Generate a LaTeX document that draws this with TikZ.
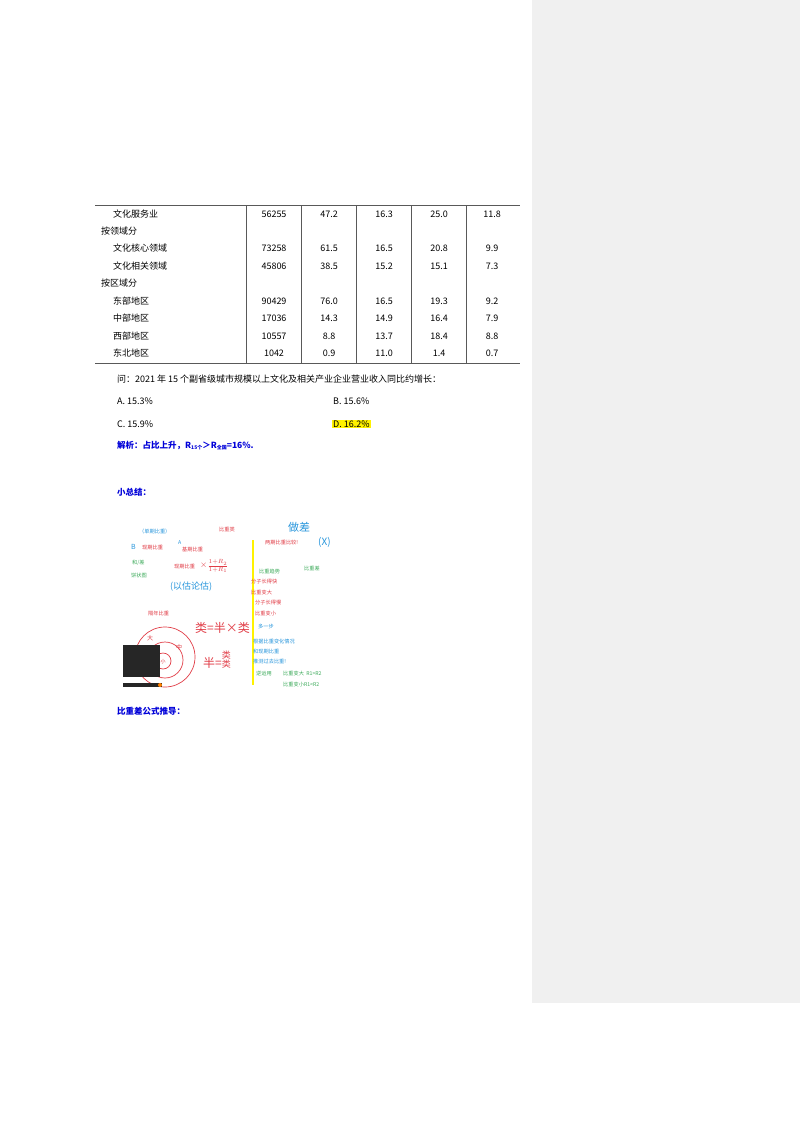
\documentclass[tikz,border=0pt]{standalone}
\usepackage{fontspec}
\setmainfont{Noto Sans CJK SC}
\newfontfamily\cjk{Noto Sans CJK SC}
\begin{document}
\begin{tikzpicture}[x=1pt,y=-1pt,
  txt/.style={anchor=west,inner sep=0,font=\fontsize{9}{10}\selectfont},
  num/.style={inner sep=0,font=\fontsize{9}{10}\selectfont},
  hw/.style={anchor=west,inner sep=0,font=\fontsize{5.2}{5.5}\selectfont},
  bl/.style={txt,text=blue!85!black,font=\fontsize{8.5}{10}\selectfont\bfseries}]
\useasboundingbox (0,0) rectangle (800,1132);
\fill[white] (0,0) rectangle (800,1132);
\fill[gray!12] (532,0) rectangle (800,1003);
% table
\draw[line width=0.6pt,gray!70!black] (95,205) -- (520,205) (95,363) -- (520,363);
\foreach \x in {246,301,356,411,466} \draw[gray!70!black,line width=0.4pt] (\x,205) -- (\x,363);
\foreach \y/\lab/\ind in {214/文化服务业/113,231/按领域分/101,248/文化核心领域/113,266/文化相关领域/113,283/按区域分/101,301/东部地区/113,318/中部地区/113,336/西部地区/113,353/东北地区/113}
  \node[txt] (l\y) at (\ind,\y) {\lab};
\foreach \y/\a/\b/\c/\d/\e in {214/56255/47.2/16.3/25.0/11.8,248/73258/61.5/16.5/20.8/9.9,266/45806/38.5/15.2/15.1/7.3,301/90429/76.0/16.5/19.3/9.2,318/17036/14.3/14.9/16.4/7.9,336/10557/8.8/13.7/18.4/8.8,353/1042/0.9/11.0/1.4/0.7}{
  \node[num] (a\y) at (274,\y) {\a};
  \node[num] (b\y) at (329,\y) {\b};
  \node[num] (c\y) at (384,\y) {\c};
  \node[num] (d\y) at (439,\y) {\d};
  \node[num] (e\y) at (492,\y) {\e};}
\node[txt] (q) at (117,379) {问：2021 年 15 个副省级城市规模以上文化及相关产业企业营业收入同比约增长：};
\node[txt] (oa) at (117,401) {A. 15.3\%};
\node[txt] (ob) at (333,401) {B. 15.6\%};
\node[txt] (oc) at (117,424) {C. 15.9\%};
\node[txt,fill=yellow,inner sep=1pt] (od) at (332,424) {D. 16.2\%};
\node[bl] (jx) at (117,446) {解析：占比上升，R\raisebox{-1pt}{\tiny 15个}＞R\raisebox{-1pt}{\tiny 全国}=16\%.};
\node[bl] (xz) at (117,492) {小总结：};
\node[bl] (gs) at (117,711) {比重差公式推导：};
% picture
\begin{scope}
\definecolor{hr}{RGB}{225,60,70}\definecolor{hb}{RGB}{40,150,220}\definecolor{hg}{RGB}{60,170,90}
\draw[yellow,line width=1.6pt] (253,540) -- (253,685);
\draw[hr,line width=0.7pt] (165,657) circle (30) (165,660) circle (18) (163,661) circle (8);
\fill[black!85] (123,645) rectangle (160,677);
\fill[black!85] (123,683) rectangle (162,687);
\fill[orange] (160,685) circle (2);
\node[hw,text=hb] (p1) at (139,532) {（单期比重）};
\node[hw,text=hr] (p2) at (219,530) {比重类};
\node[hw,text=hb,font=\fontsize{11}{11}\selectfont\itshape] (p3) at (288,527) {做差};
\node[hw,text=hb,font=\fontsize{10}{10}\selectfont] (p4) at (318,542) {(X)};
\node[hw,text=hr] (p5) at (265,543) {两期比重比较!};
\node[hw,text=hb,font=\fontsize{7}{7}\selectfont] (p6) at (131,547) {B};
\node[hw,text=hr] (p7) at (142,548) {现期比重};
\node[hw,text=hb] (p8) at (178,543) {A};
\node[hw,text=hr] (p9) at (182,550) {基期比重};
\node[hw,text=hg] (p10) at (132,563) {和/差};
\node[hw,text=hg] (p11) at (131,576) {饼状图};
\node[hw,text=hr] (p12) at (174,567) {现期比重};
\node[hw,text=hr,font=\fontsize{9}{9}\selectfont] (p13) at (200,566) {$\times\frac{1+R_2}{1+R_1}$};
\node[hw,text=hb,font=\fontsize{9}{9}\selectfont] (p14) at (170,587) {(以估论估)};
\node[hw,text=hg] (p15) at (259,572) {比重趋势};
\node[hw,text=hg] (p16) at (304,568) {比重差};
\node[hw,text=hr] (p17) at (251,582) {分子长得快};
\node[hw,text=hr] (p18) at (251,592) {比重变大};
\node[hw,text=hr] (p19) at (255,603) {分子长得慢};
\node[hw,text=hr] (p20) at (255,613) {比重变小};
\node[hw,text=hr] (p21) at (148,614) {隔年比重};
\node[hw,text=hb] (p22) at (258,627) {多一步};
\node[hw,text=hb] (p23) at (253,641) {根据比重变化情况};
\node[hw,text=hb] (p24) at (253,652) {和现期比重};
\node[hw,text=hb] (p25) at (253,662) {推测过去比重!};
\node[hw,text=hg] (p26) at (256,674) {逆运用};
\node[hw,text=hg] (p27) at (283,673) {比重变大\ \ R1>R2};
\node[hw,text=hg] (p28) at (283,684) {比重变小R1<R2};
\node[hw,text=hr,font=\fontsize{12}{12}\selectfont] (p29) at (195,628) {类=半×类};
\node[hw,text=hr,font=\fontsize{12}{12}\selectfont] (p30) at (203,660) {半=\shortstack{\fontsize{9}{9}\selectfont 类\\[-2pt]\fontsize{9}{9}\selectfont 类}};
\node[inner sep=0,text=hr,font=\fontsize{6}{6}\selectfont] (c1b) at (150,638) {大};
\node[inner sep=0,text=hr,font=\fontsize{6}{6}\selectfont] (c2) at (179,647) {中};
\node[inner sep=0,text=hr,font=\fontsize{5}{5}\selectfont] (c3) at (163,662) {小};
\end{scope}
\end{tikzpicture}
\end{document}
